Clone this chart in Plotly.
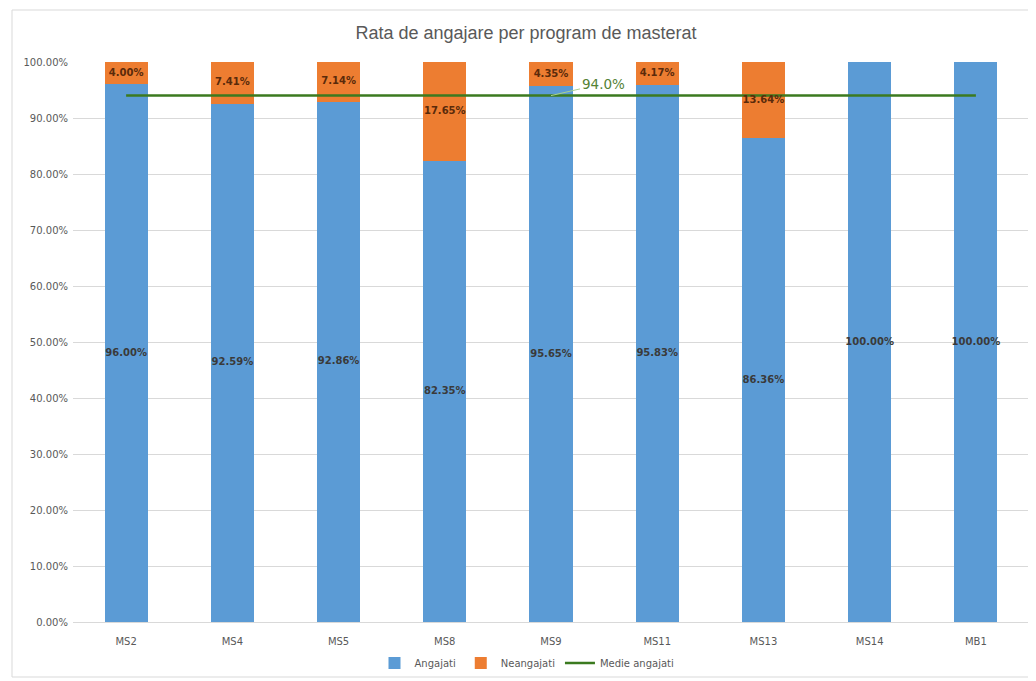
import plotly.graph_objects as go

categories = ["MS2", "MS4", "MS5", "MS8", "MS9", "MS11", "MS13", "MS14", "MB1"]
angajati = [96.00, 92.59, 92.86, 82.35, 95.65, 95.83, 86.36, 100.00, 100.00]
neangajati = [4.00, 7.41, 7.14, 17.65, 4.35, 4.17, 13.64, 0.00, 0.00]
medie = 94.0
y_ticks = [0, 10, 20, 30, 40, 50, 60, 70, 80, 90, 100]

BLUE = "#5B9BD5"
ORANGE = "#ED7D31"
GREEN = "#3B7A1F"
FONT = "DejaVu Sans"

fig = go.Figure()
fig.add_trace(go.Bar(x=categories, y=angajati, name="Angajati", marker_color=BLUE,
                     marker_line_width=0, hoverinfo="y"))
fig.add_trace(go.Bar(x=categories, y=neangajati, name="Neangajati", marker_color=ORANGE,
                     marker_line_width=0, hoverinfo="y"))
fig.add_trace(go.Scatter(x=categories, y=[medie] * len(categories), name="Medie angajati",
                         mode="lines", line=dict(color=GREEN, width=2.5)))

# data labels
fig.add_trace(go.Scatter(x=categories, y=[v / 2 for v in angajati], mode="text",
                         text=[f"{v:.2f}%" for v in angajati], showlegend=False,
                         textfont=dict(family=FONT, size=10, color="#3a3a3a", weight="bold"),
                         hoverinfo="skip"))
fig.add_trace(go.Scatter(x=categories, y=[a + n / 2 for a, n in zip(angajati, neangajati)],
                         mode="text",
                         text=[f"{n:.2f}%" if n > 0 else "" for n in neangajati], showlegend=False,
                         textfont=dict(family=FONT, size=10, color="#5a2a0a", weight="bold"),
                         hoverinfo="skip"))

fig.add_annotation(x="MS9", y=medie, xref="x", yref="y", text=f"{medie:.1f}%",
                   showarrow=True, arrowhead=0, arrowwidth=1, arrowcolor="#a9d18e",
                   ax=52, ay=-12, xanchor="center", yanchor="middle",
                   font=dict(family=FONT, size=13.5, color="#548235"))

OFF = 8  # page body margin
W, H = 1036 - OFF, 681 - OFF
L, T = 73 - OFF, 62 - OFF
R = W - (1029 - OFF)
B = H - (622 - OFF)
pw, ph = W - L - R, H - T - B
fig.add_shape(type="rect", xref="paper", yref="paper",
              x0=(12 - OFF - L) / pw, x1=(1030 - OFF - L) / pw,
              y0=(H - B - (677 - OFF)) / ph, y1=(H - B - (10 - OFF)) / ph,
              line=dict(color="#d9d9d9", width=1), fillcolor="rgba(0,0,0,0)", layer="below")

fig.update_layout(
    width=W, height=H,
    barmode="stack", bargap=0.595,
    plot_bgcolor="white", paper_bgcolor="white",
    margin=dict(l=L, r=R, t=T, b=B),
    title=dict(text="Rata de angajare per program de masterat", x=(526 - OFF) / W, xanchor="center",
               xref="container", y=1 - (33 - OFF) / H, yanchor="middle", yref="container",
               font=dict(family="Liberation Sans", size=18, color="#595959")),
    legend=dict(orientation="h", x=(527 - OFF) / W, xanchor="center", xref="container",
                y=1 - (663 - OFF) / H, yref="container", yanchor="middle",
                font=dict(family=FONT, size=10, color="#595959"), traceorder="normal",
                itemwidth=30, bgcolor="rgba(0,0,0,0)"),
    font=dict(family=FONT, size=10, color="#595959"),
)
fig.update_yaxes(range=[0, 100], tickvals=y_ticks, ticktext=[f"{v:.2f}%" for v in y_ticks],
                 gridcolor="#d9d9d9", gridwidth=1, zeroline=False, showline=False,
                 tickfont=dict(family=FONT, size=10, color="#595959"), ticks="",
                 ticklabelstandoff=4, automargin=False)
fig.update_xaxes(showgrid=False, showline=True, linecolor="#d9d9d9",
                 tickfont=dict(family=FONT, size=10, color="#595959"), ticks="",
                 ticklabelstandoff=10, automargin=False)

fig.write_html("out.html")
